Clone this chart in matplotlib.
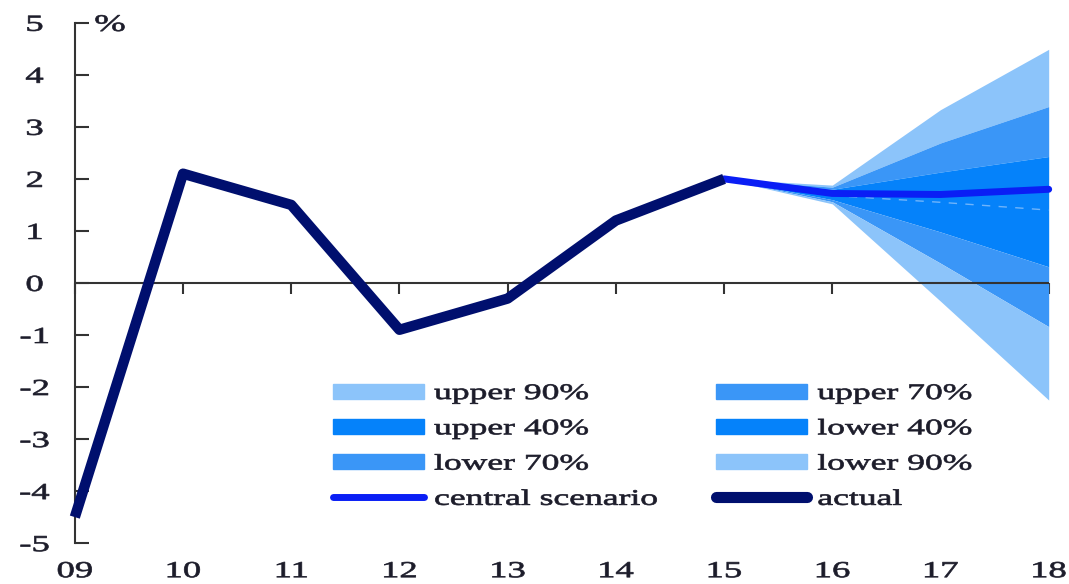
import matplotlib
matplotlib.use("Agg")
import matplotlib.pyplot as plt
from matplotlib.patches import Patch
from matplotlib.lines import Line2D
from matplotlib.patheffects import AbstractPathEffect
from matplotlib.transforms import Affine2D

plt.rcParams['font.family'] = ['Liberation Serif', 'DejaVu Serif']

# data
years_actual = [9, 10, 11, 12, 13, 14, 15]
actual = [-4.5, 2.1, 1.5, -0.9, -0.3, 1.2, 2.0]

years_fc = [15, 16, 17, 18]
central = [2.0, 1.72, 1.70, 1.80]
lower90 = [2.0, 1.52, -0.35, -2.25]
lower70 = [2.0, 1.56, 0.38, -0.84]
lower40 = [2.0, 1.60, 0.98, 0.31]
upper40 = [2.0, 1.80, 2.13, 2.43]
upper70 = [2.0, 1.84, 2.69, 3.39]
upper90 = [2.0, 1.88, 3.33, 4.49]
years_mean = [16, 17, 18]
mean_fc = [1.68, 1.55, 1.40]

xtick_vals = list(range(9, 19))
xtick_labels = ['09', '10', '11', '12', '13', '14', '15', '16', '17', '18']
ytick_vals = list(range(-5, 6))

c90 = '#8CC4FA'
c70 = '#3A96F7'
c40 = '#0582FA'
c_central = '#0A1EF5'
c_actual = '#000F6E'
txt = '#1c1c2a'
FS = 16
SX = 1.6


class Stretch(AbstractPathEffect):
    """Horizontally widen glyphs (the reference text is drawn wide)."""
    def __init__(self, sx, anchor='center', lw=0.5):
        super().__init__()
        self.sx = sx
        self.anchor = anchor
        self.lw = lw

    def draw_path(self, renderer, gc, tpath, affine, rgbFace=None):
        ext = tpath.get_extents()
        if self.anchor == 'center':
            a = (ext.x0 + ext.x1) / 2
        else:
            a = 0.0
        pre = Affine2D().translate(-a, 0).scale(self.sx, 1).translate(a, 0)
        gc0 = renderer.new_gc()
        gc0.copy_properties(gc)
        gc0.set_linewidth(self.lw)
        if rgbFace is not None:
            gc0.set_foreground(rgbFace)
        renderer.draw_path(gc0, tpath, pre + affine, rgbFace)
        gc0.restore()


fig = plt.figure(figsize=(10.69, 5.84), dpi=100)
ax = fig.add_axes([0.070, 0.070, 0.911, 0.891])

ax.fill_between(years_fc, upper70, upper90, color=c90, lw=0)
ax.fill_between(years_fc, upper40, upper70, color=c70, lw=0)
ax.fill_between(years_fc, central, upper40, color=c40, lw=0)
ax.fill_between(years_fc, lower40, central, color=c40, lw=0)
ax.fill_between(years_fc, lower70, lower40, color=c70, lw=0)
ax.fill_between(years_fc, lower90, lower70, color=c90, lw=0)
ax.plot(years_mean, mean_fc, color='#6fb4fb', lw=1, ls=(0, (6, 6)))

ax.axhline(0, color='#333333', lw=1.5, zorder=1)
ax.plot(years_fc, central, color=c_central, lw=5, solid_capstyle='round', clip_on=False, zorder=4)
ax.plot(years_actual, actual, color=c_actual, lw=7.5, solid_capstyle='butt', zorder=5, clip_on=False)

ax.set_xlim(9, 18)
ax.set_ylim(-5, 5)

for s in ['top', 'right', 'bottom']:
    ax.spines[s].set_visible(False)
ax.spines['left'].set_color('#333333')
ax.spines['left'].set_linewidth(1.5)

ax.set_yticks(ytick_vals)
ax.set_yticklabels([str(v) for v in ytick_vals])
ax.tick_params(axis='y', direction='in', length=10, width=1.5, color='#333333',
               labelsize=FS + 0.5, pad=29, labelcolor=txt)
for lab in ax.get_yticklabels():
    lab.set_horizontalalignment('center')
    lab.set_path_effects([Stretch(SX, 'center')])

ax.set_xticks(xtick_vals)
ax.set_xticklabels(xtick_labels)
ax.tick_params(axis='x', length=0, labelsize=FS + 0.5, pad=13, labelcolor=txt)
for lab in ax.get_xticklabels():
    lab.set_path_effects([Stretch(SX, 'center')])

sec = ax.secondary_xaxis(0.5)
sec.set_xticks(xtick_vals)
sec.tick_params(axis='x', direction='in', length=8, width=1.5, color='#333333',
                labelbottom=False, labeltop=False)
sec.spines['bottom'].set_visible(False)
sec.spines['top'].set_visible(False)

t = ax.text(0.036, 0.995, '%', transform=ax.transAxes, fontsize=FS + 1,
            va='center', ha='center', color=txt)
t.set_path_effects([Stretch(SX, 'center')])

handles = [
    Patch(color=c90, label='upper 90%'),
    Patch(color=c40, label='upper 40%'),
    Patch(color=c70, label='lower 70%'),
    Line2D([], [], color=c_central, lw=5, solid_capstyle='round', label='central scenario'),
    Patch(color=c70, label='upper 70%'),
    Patch(color=c40, label='lower 40%'),
    Patch(color=c90, label='lower 90%'),
    Line2D([], [], color=c_actual, lw=8, solid_capstyle='round', label='actual'),
]
leg = ax.legend(handles=handles, ncol=2, loc='upper left', bbox_to_anchor=(0.265, 0.306),
                frameon=False, fontsize=FS, handlelength=4.1, handleheight=0.64,
                handletextpad=0.45, columnspacing=6.4, labelspacing=0.68, borderpad=0,
                borderaxespad=0)
for lt in leg.get_texts():
    lt.set_color(txt)
    lt.set_path_effects([Stretch(SX, 'left')])

fig.savefig('out.png', dpi=100)
